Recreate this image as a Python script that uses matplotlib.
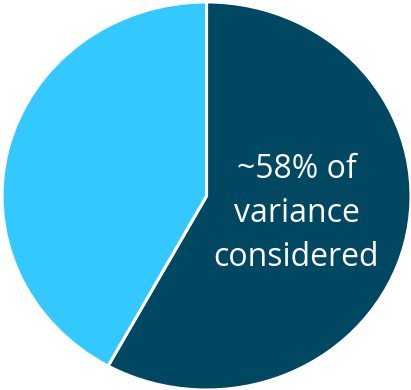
import matplotlib.pyplot as plt

labels = ['considered', 'not considered']
shares = [58, 42]
colors = ['#004862', '#33C8FF']
note = '~58% of\nvariance\nconsidered'

fig = plt.figure(figsize=(4.11, 3.90), dpi=100)
ax = fig.add_axes([0, 0, 1, 1])
ax.pie(shares, colors=colors, startangle=90, counterclock=False,
       wedgeprops=dict(edgecolor='white', linewidth=2.2))
ax.set_aspect('auto')
ax.set_xlim(-1.01, 1.0)
ax.set_ylim(-1.0, 1.01)
ax.axis('off')

# label inside the dark slice
ax.text(0.44, -0.09, note, color='white', fontsize=23, family='Open Sans',
        ha='center', va='center', linespacing=1.45)

fig.savefig('out.png', dpi=100)
